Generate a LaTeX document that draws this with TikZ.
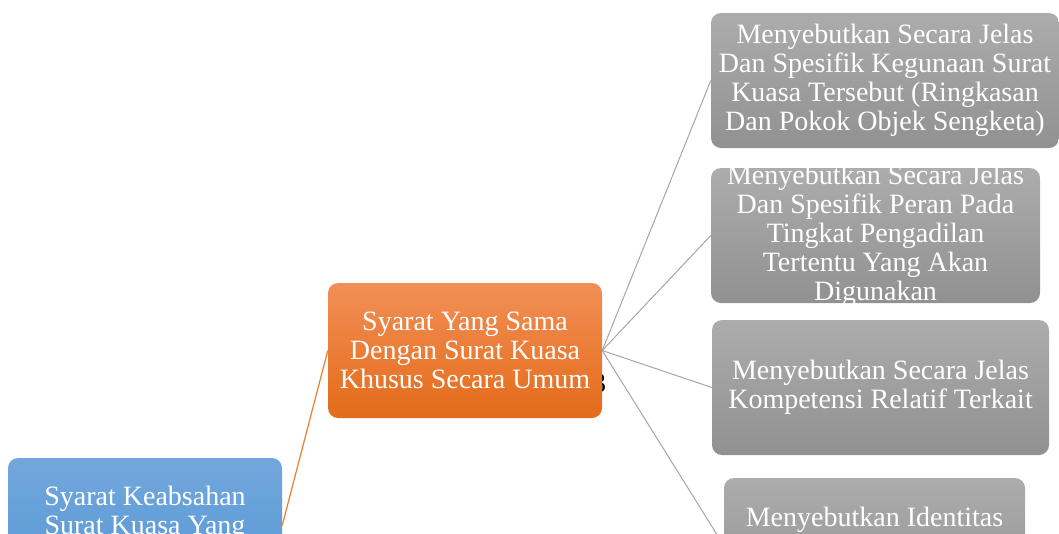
\documentclass[tikz,border=0pt]{standalone}
\usepackage{fontspec}
\setmainfont{Liberation Serif}
\usepackage{xcolor}
\usepackage{tikz}
\definecolor{bltop}{RGB}{114,167,221}
\definecolor{blbot}{RGB}{86,151,212}
\definecolor{ortop}{RGB}{242,143,86}
\definecolor{orbot}{RGB}{228,107,25}
\definecolor{grtop}{RGB}{172,172,172}
\definecolor{grbot}{RGB}{145,145,145}
\definecolor{orline}{RGB}{237,125,49}
\definecolor{grline}{RGB}{165,165,165}

\begin{document}
\begin{tikzpicture}[x=1pt, y=-1pt,
    box/.style={rounded corners=10pt, minimum height=135pt, inner xsep=2pt, inner ysep=0pt,
                text=white, align=center, font=\fontsize{28}{29}\selectfont},
    root/.style={box, top color=bltop, bottom color=blbot, minimum width=274pt},
    mid/.style={box, top color=ortop, bottom color=orbot, minimum width=274pt},
    leaf/.style={box, top color=grtop, bottom color=grbot},
    lbl/.style={text=white, align=center, inner sep=0pt, font=\fontsize{28}{29}\selectfont},
    orarr/.style={orline, line width=1.2pt},
    grarr/.style={grline, line width=1pt}
  ]
    \useasboundingbox (0,0) rectangle (1059,533);
    \clip (0,0) rectangle (1059,533);
    % Glyph hidden behind the middle box
    \node[inner sep=0pt, anchor=base, font=\fontsize{28}{29}\selectfont] (stray) at (599,392) {3};
    % Root
    \node[root] (root) at (145,525.5) {};
    \node[lbl, anchor=base] (roottxt) at (145,534) {Syarat Keabsahan\\Surat Kuasa Yang};
    % Middle
    \node[mid] (same) at (465,350.5) {Syarat Yang Sama\\Dengan Surat Kuasa\\Khusus Secara Umum};
    % Leaves
    \node[leaf, minimum width=348pt] (use) at (885,80.5) {Menyebutkan Secara Jelas\\Dan Spesifik Kegunaan Surat\\Kuasa Tersebut (Ringkasan\\Dan Pokok Objek Sengketa)};
    \node[leaf, minimum width=329pt, inner ysep=-4pt] (role) at (875.5,235.5) {Menyebutkan Secara Jelas\\Dan Spesifik Peran Pada\\Tingkat Pengadilan\\Tertentu Yang Akan\\Digunakan};
    \node[leaf, minimum width=337pt] (comp) at (880.5,387.5) {Menyebutkan Secara Jelas\\Kompetensi Relatif Terkait};
    \node[leaf, minimum width=301pt] (ident) at (874.5,545.5) {};
    \node[lbl, anchor=base] (identtxt) at (874.5,526) {Menyebutkan Identitas};
    % Connectors
    \draw[orarr] (root.east) -- (same.west);
    \draw[grarr] (same.east) -- (use.west);
    \draw[grarr] (same.east) -- (role.west);
    \draw[grarr] (same.east) -- (comp.west);
    \draw[grarr] (same.east) -- (ident.west);
  \end{tikzpicture}
\end{document}
